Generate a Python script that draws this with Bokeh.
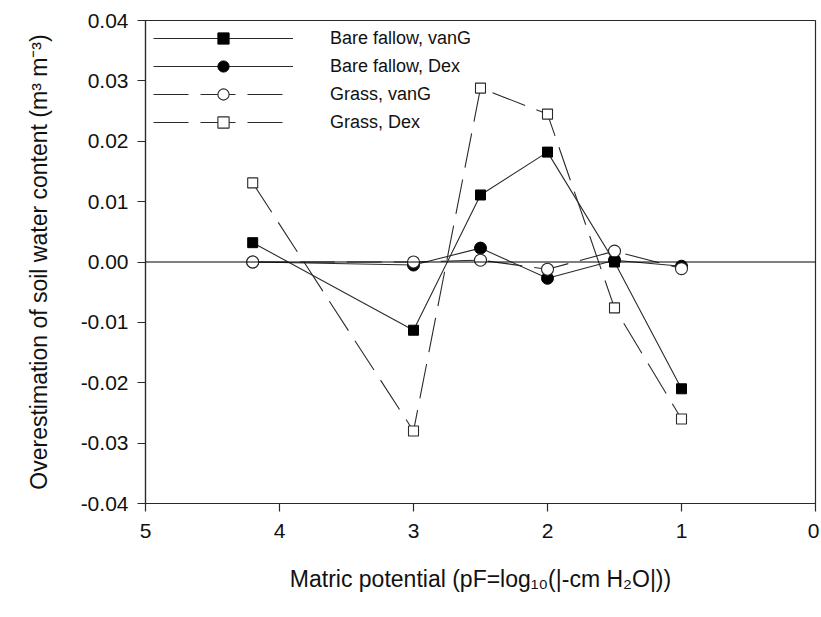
from bokeh.plotting import figure
from bokeh.models import Range1d, FixedTicker, NumeralTickFormatter, Span, Legend, LegendItem
from bokeh.embed import file_html
from bokeh.resources import INLINE

# Data
pf = [4.2, 3.0, 2.5, 2.0, 1.5, 1.0]
bare_vang = [0.0032, -0.0113, 0.0111, 0.0182, 0.0000, -0.0210]
bare_dex = [0.0000, -0.0005, 0.0023, -0.0027, 0.0003, -0.0007]
grass_vang = [0.0000, 0.0000, 0.0003, -0.0012, 0.0018, -0.0011]
grass_dex = [0.0131, -0.0280, 0.0288, 0.0245, -0.0076, -0.0260]
x_ticks = [0, 1, 2, 3, 4, 5]
y_ticks = [-0.04, -0.03, -0.02, -0.01, 0.0, 0.01, 0.02, 0.03, 0.04]

FONT = "Liberation Sans"
LC = "#2a2a2a"

p = figure(width=819, height=612, output_backend="svg", toolbar_location=None,
           x_range=Range1d(5, 0), y_range=Range1d(-0.04, 0.04),
           min_border_left=145, min_border_right=4, min_border_top=20, min_border_bottom=109)

p.xgrid.visible = False
p.ygrid.visible = False
p.outline_line_color = LC
p.outline_line_width = 1.2
p.background_fill_color = "white"
p.border_fill_color = "white"

for ax in (p.xaxis[0], p.yaxis[0]):
    ax.axis_line_color = LC
    ax.axis_line_width = 1.2
    ax.major_tick_line_color = LC
    ax.major_tick_line_width = 1.2
    ax.major_tick_out = 8
    ax.major_tick_in = 0
    ax.minor_tick_line_color = None
    ax.major_label_text_font = FONT
    ax.major_label_text_font_size = "21px"
    ax.major_label_text_color = "#111111"
    ax.axis_label_text_font = FONT
    ax.axis_label_text_font_size = "23px"
    ax.axis_label_text_font_style = "normal"
    ax.axis_label_text_color = "#111111"

p.xaxis.ticker = FixedTicker(ticks=x_ticks)
p.yaxis.ticker = FixedTicker(ticks=y_ticks)
p.yaxis.formatter = NumeralTickFormatter(format="0.00")
p.xaxis.major_label_standoff = 12
p.yaxis.major_label_standoff = 9
p.xaxis.axis_label = "Matric potential (pF=log\u2081\u2080(|-cm H\u2082O|))"
p.yaxis.axis_label = "Overestimation of soil water content (m\u00b3 m\u207b\u00b3)"
p.xaxis.axis_label_standoff = 25
p.yaxis.axis_label_standoff = 26

zero = Span(location=0, dimension="width", line_color="black", line_width=1.2)
p.add_layout(zero)

DASH = "35 12"

l_bd = p.line(pf, bare_dex, line_color=LC, line_width=1.1)
s_bd = p.scatter(pf, bare_dex, marker="circle", size=12, fill_color="black", line_color="black")

l_gv = p.line(pf, grass_vang, line_color=LC, line_width=1.1, line_dash=DASH)
s_gv = p.scatter(pf, grass_vang, marker="circle", size=12, fill_color="white", line_color=LC, line_width=1.1)

l_bv = p.line(pf, bare_vang, line_color=LC, line_width=1.1)
s_bv = p.scatter(pf, bare_vang, marker="square", size=10, fill_color="black", line_color="black")

l_gd = p.line(pf, grass_dex, line_color=LC, line_width=1.1, line_dash=DASH)
s_gd = p.scatter(pf, grass_dex, marker="square", size=10, fill_color="white", line_color=LC, line_width=1.1)

legend = Legend(items=[
    LegendItem(label="Bare fallow, vanG", renderers=[l_bv, s_bv]),
    LegendItem(label="Bare fallow, Dex", renderers=[l_bd, s_bd]),
    LegendItem(label="Grass, vanG", renderers=[l_gv, s_gv]),
    LegendItem(label="Grass, Dex", renderers=[l_gd, s_gd]),
], location=(8, 367))
legend.glyph_width = 140
legend.glyph_height = 28
legend.label_height = 28
legend.spacing = 0
legend.padding = 0
legend.margin = 0
legend.label_standoff = 37
legend.label_text_font = FONT
legend.label_text_font_size = "18px"
legend.label_text_color = "#111111"
legend.border_line_color = None
legend.background_fill_alpha = 0
p.add_layout(legend)

open("out.html", "w").write(file_html(p, INLINE))
